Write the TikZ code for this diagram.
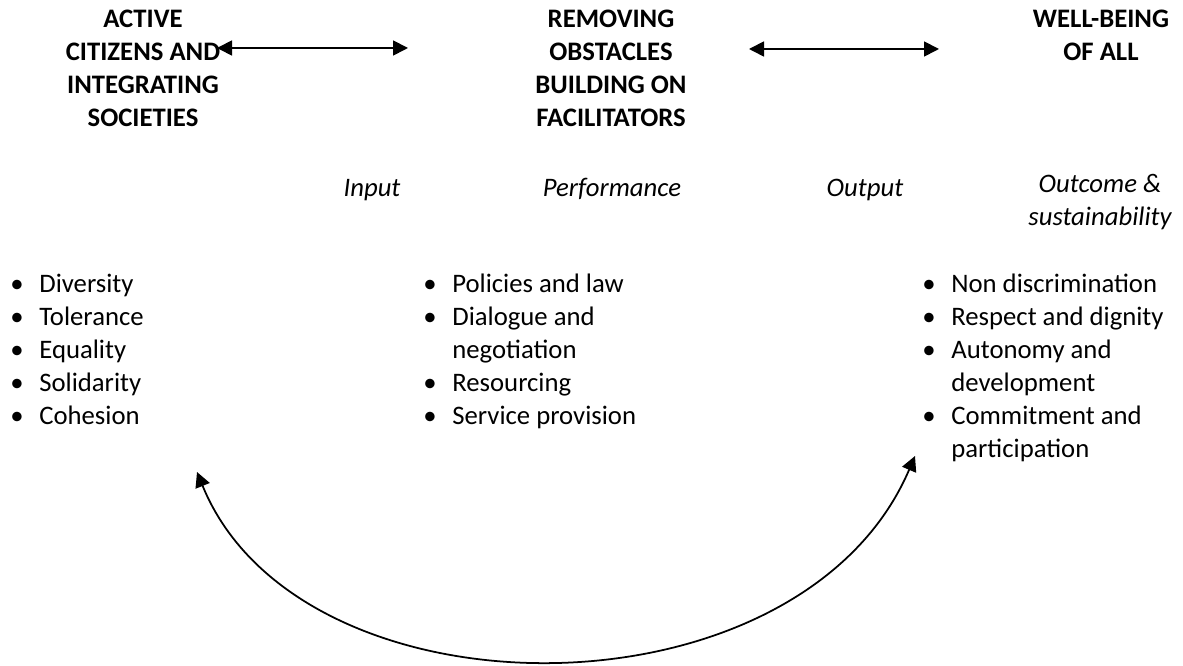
\documentclass[tikz,border=0pt]{standalone}
\usepackage{fontspec}
\setmainfont{Carlito}
\usetikzlibrary{arrows.meta,positioning}
\newcommand{\bul}{\makebox[0.58cm][l]{\textbullet}}
\newcommand{\cont}{\hspace*{0.58cm}}
% first line gets a strut, so every block hangs from the same top
\tikzset{
  title block/.style={
    inner sep=0pt, align=center, anchor=north,
    execute at begin node=\strut,
    font=\fontsize{15.2pt}{18.8pt}\selectfont\bfseries
  },
  stage label/.style={
    inner sep=0pt, align=center, anchor=north,
    execute at begin node=\strut,
    font=\fontsize{15.2pt}{18.8pt}\selectfont\itshape
  },
  value list/.style={
    inner sep=0pt, align=left, anchor=north west,
    execute at begin node=\strut,
    font=\fontsize{15.2pt}{18.8pt}\selectfont
  },
  link arrow/.style={{Triangle[length=3mm,width=3mm]}-{Triangle[length=3mm,width=3mm]}, line width=1pt}
}

\begin{document}
\begin{tikzpicture}
    \useasboundingbox (0,0) rectangle (23.66,-13.32);
    % headings
    \node[title block] (active) at (2.86,-0.196) {ACTIVE\\CITIZENS AND\\INTEGRATING\\SOCIETIES};
    \node[title block] (removing) at (12.22,-0.196) {REMOVING\\OBSTACLES\\BUILDING ON\\FACILITATORS};
    \node[title block] (wellbeing) at (22.02,-0.196) {WELL-BEING\\OF ALL};
    % stages
    \node[stage label] (input) at (7.44,-3.456) {Input};
    \node[stage label] (performance) at (12.24,-3.456) {Performance};
    \node[stage label] (output) at (17.3,-3.456) {Output};
    \node[stage label] (outcome) at (22.0,-3.476) {Outcome \&\\sustainability};
    % lists
    \node[value list] (values) at (0.2,-5.476) {\bul Diversity\\\bul Tolerance\\\bul Equality\\\bul Solidarity\\\bul Cohesion};
    \node[value list] (means) at (8.46,-5.476) {\bul Policies and law\\\bul Dialogue and\\\cont negotiation\\\bul Resourcing\\\bul Service provision};
    \node[value list] (results) at (18.44,-5.476) {\bul Non discrimination\\\bul Respect and dignity\\\bul Autonomy and\\\cont development\\\bul Commitment and\\\cont participation};
    % arrows
    \coordinate (a1) at (4.34,-0.96);
    \coordinate (b1) at (8.16,-0.96);
    \coordinate (a2) at (14.98,-0.98);
    \coordinate (b2) at (18.78,-0.98);
    \draw[link arrow] (a1) -- (b1);
    \draw[link arrow] (a2) -- (b2);
    \coordinate (loopstart) at (3.94,-9.44);
    \coordinate (loopend) at (18.3,-9.12);
    \draw[link arrow] (loopstart) .. controls (6,-14.5) and (16,-14.5) .. (loopend);
\end{tikzpicture}
\end{document}
